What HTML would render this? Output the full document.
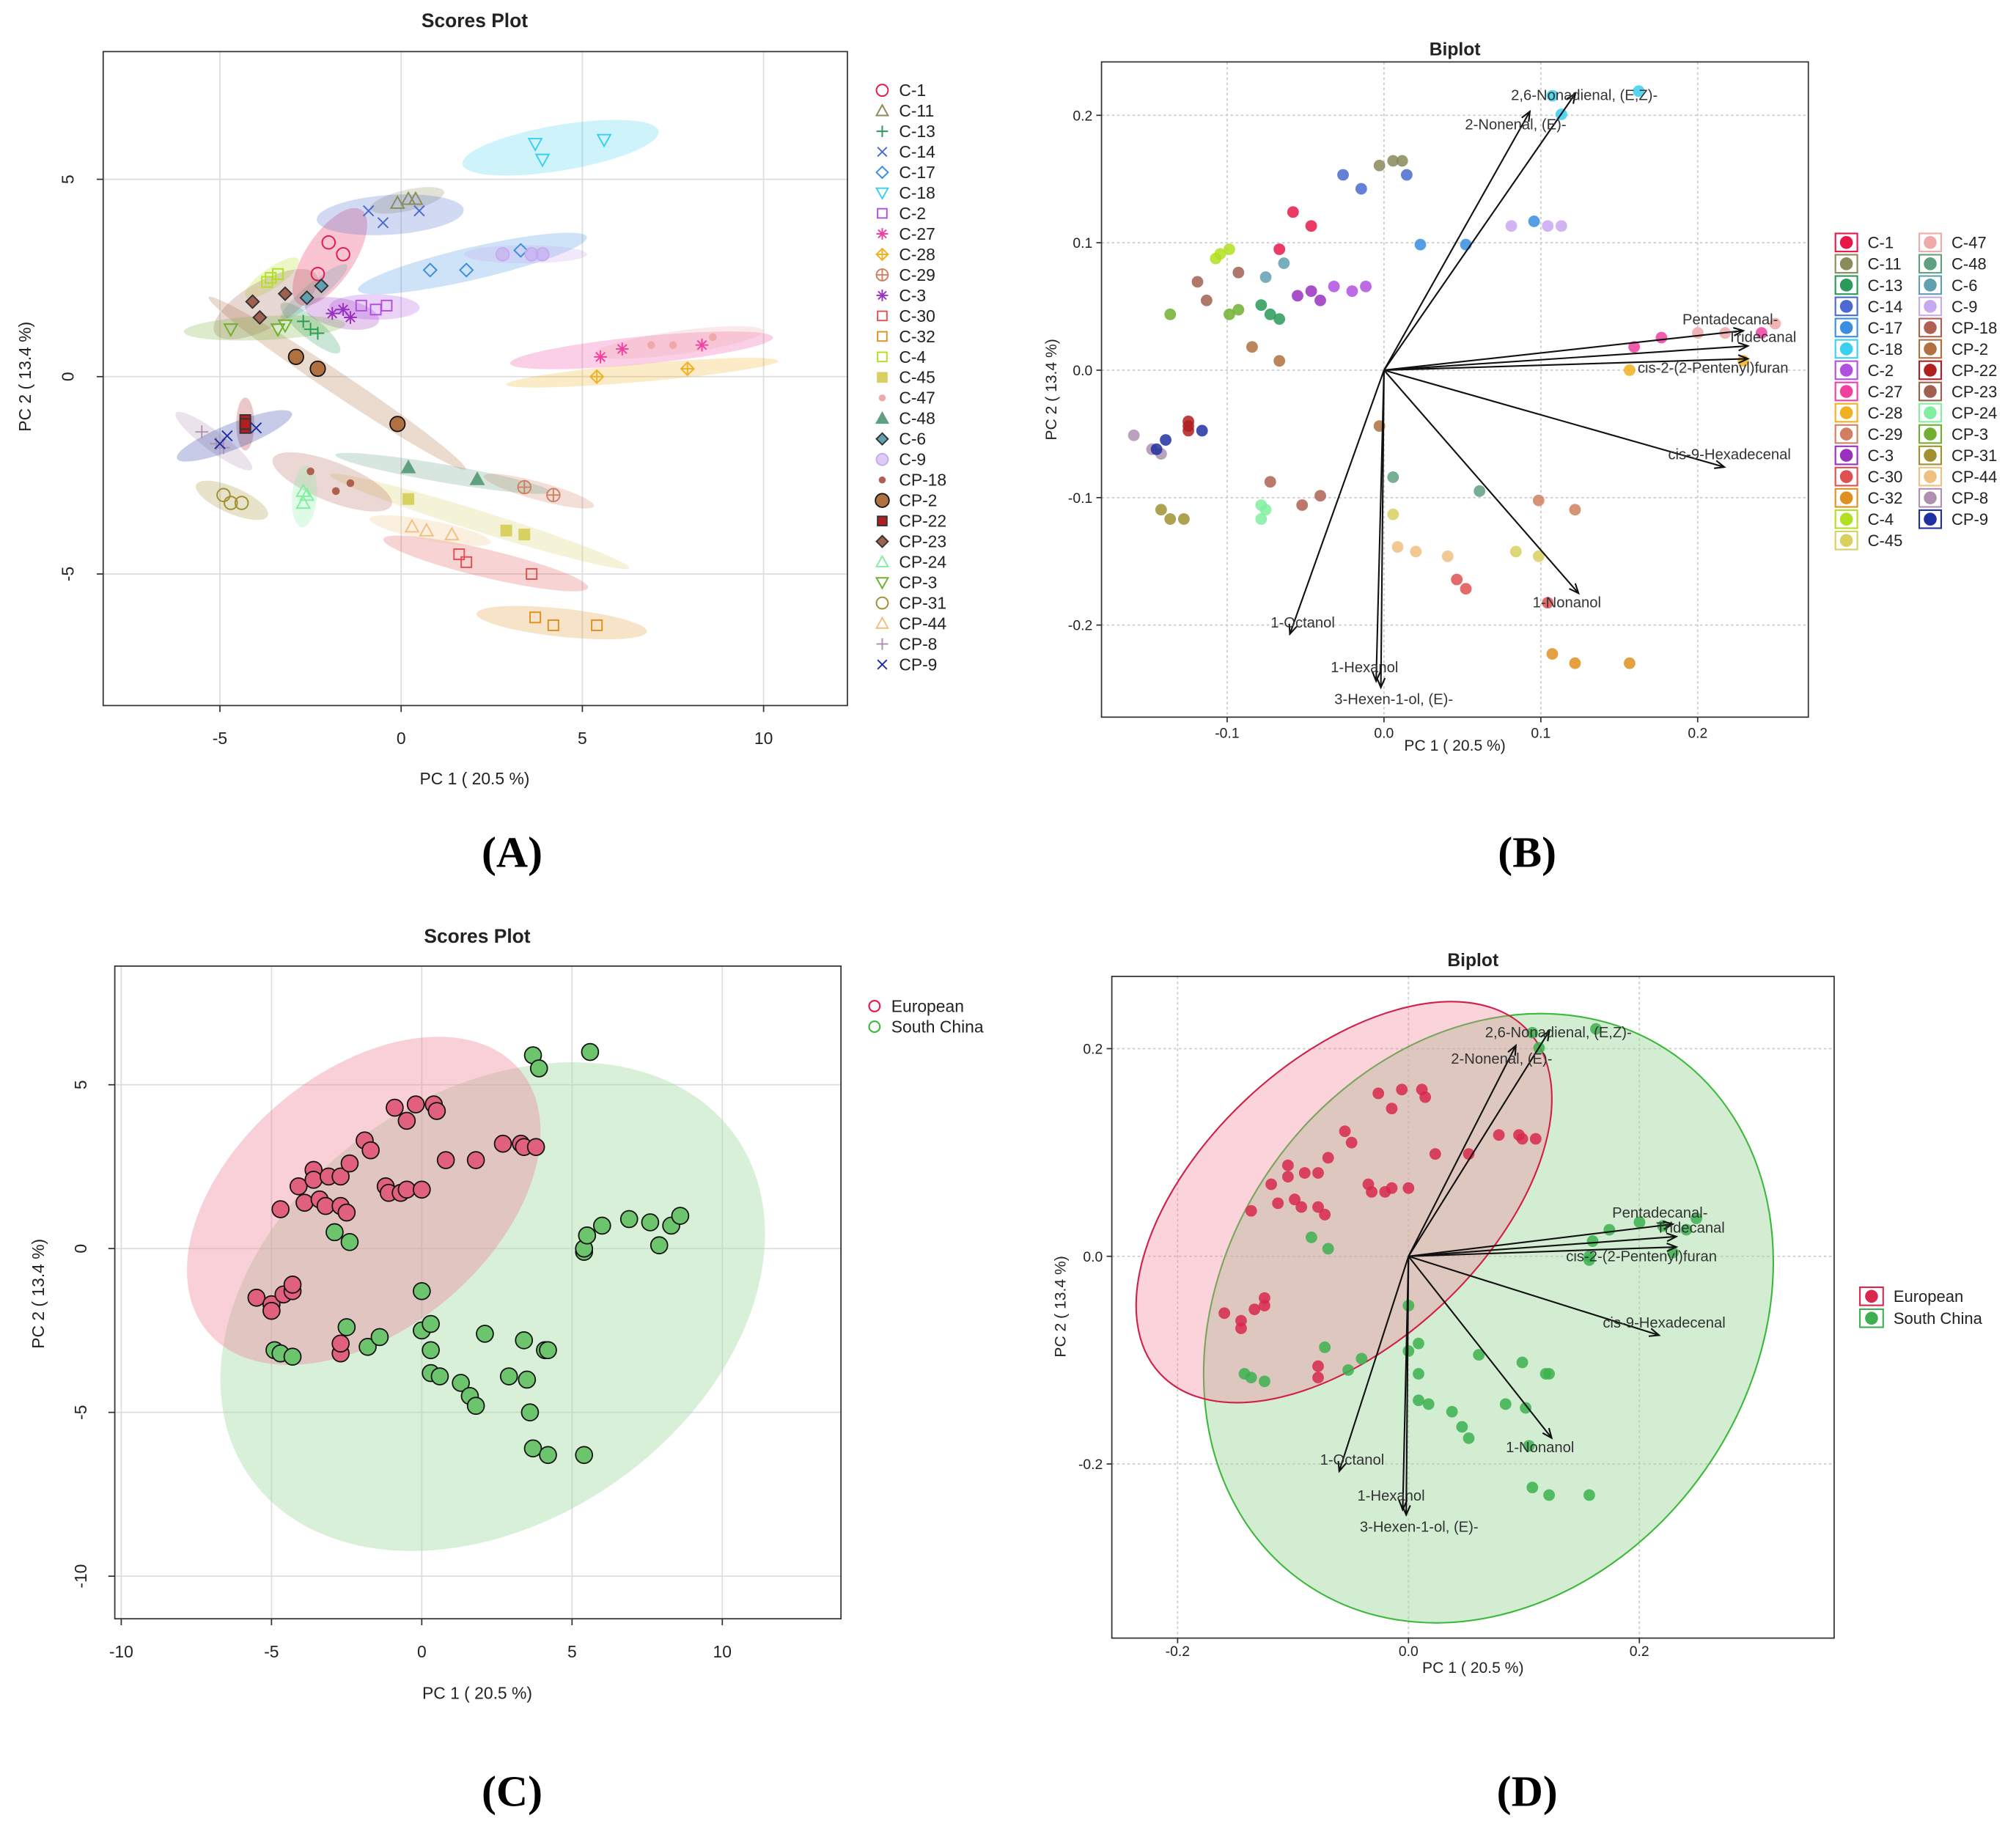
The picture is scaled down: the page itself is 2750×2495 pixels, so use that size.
<!DOCTYPE html>
<html><head><meta charset="utf-8"><title>PCA figure</title>
<style>
html,body{margin:0;padding:0;background:#fff;}
svg{display:block;}
text{font-family:"Liberation Sans",sans-serif;}
text.plabel{font-family:"Liberation Serif",serif;}
</style></head>
<body>
<svg id="fig" xmlns="http://www.w3.org/2000/svg" width="2750" height="2495" viewBox="0 0 1563 1418" preserveAspectRatio="none"></svg>
<script>
// ---------- DATA ----------
const groupNames=["C-1","C-11","C-13","C-14","C-17","C-18","C-2","C-27","C-28","C-29","C-3","C-30","C-32","C-4","C-45","C-47","C-48","C-6","C-9","CP-18","CP-2","CP-22","CP-23","CP-24","CP-3","CP-31","CP-44","CP-8","CP-9"];
const groupColors=["#e8174a","#8a8a5a","#2a9a5a","#4a6ad0","#3a8ee0","#3acff0","#b050e0","#f040a0","#f0b020","#d08060","#9a30c0","#e05050","#e09020","#b0e020","#d8d060","#f0a8a8","#60a080","#60a0b0","#c8a8f0","#b06050","#b07040","#b02020","#a06050","#80f0a0","#70b030","#a09030","#f0c080","#b090b0","#2030a0"];
const groupMarkers=["o","^","+","x","d","v","sq","*","dp","op","st","sq","sq","sq","fs","dot","ft","fd","fo","dot","bo","fsq","fd","^","v","o","^","+","x"];
const groupPC1=[[-2.0,-1.6,-2.3],[-0.1,0.2,0.4],[-2.7,-2.5,-2.3],[-0.9,-0.5,0.5],[0.8,1.8,3.3],[3.7,3.9,5.6],[-1.1,-0.7,-0.4],[5.5,6.1,8.3],[5.4,7.9],[3.4,4.2],[-1.9,-1.6,-1.4],[1.6,1.8,3.6],[3.7,4.2,5.4],[-3.6,-3.7,-3.4],[0.2,2.9,3.4],[6.9,7.5,8.6],[0.2,2.1],[-2.6,-2.2],[2.8,3.6,3.9],[-2.5,-1.8,-1.4],[-2.9,-2.3,-0.1],[-4.3,-4.3,-4.3],[-4.1,-3.9,-3.2],[-2.7,-2.7,-2.6],[-4.7,-3.4,-3.2],[-4.9,-4.7,-4.4],[0.3,0.7,1.4],[-5.5,-5.1,-4.9],[-5.0,-4.8,-4.0]];
const groupPC2=[[3.4,3.1,2.6],[4.4,4.5,4.5],[1.4,1.2,1.1],[4.2,3.9,4.2],[2.7,2.7,3.2],[5.9,5.5,6.0],[1.8,1.7,1.8],[0.5,0.7,0.8],[0.0,0.2],[-2.8,-3.0],[1.6,1.7,1.5],[-4.5,-4.7,-5.0],[-6.1,-6.3,-6.3],[2.5,2.4,2.6],[-3.1,-3.9,-4.0],[0.8,0.8,1.0],[-2.3,-2.6],[2.0,2.3],[3.1,3.1,3.1],[-2.4,-2.9,-2.7],[0.5,0.2,-1.2],[-1.1,-1.3,-1.2],[1.9,1.5,2.1],[-2.9,-3.2,-3.0],[1.2,1.2,1.3],[-3.0,-3.2,-3.2],[-3.8,-3.9,-4.0],[-1.4,-1.7,-1.8],[-1.7,-1.5,-1.3]];

const euroPC1=[-5.5,-5.0,-5.0,-4.7,-4.6,-4.3,-4.3,-4.1,-3.9,-3.6,-3.6,-3.4,-3.1,-3.2,-2.7,-2.7,-2.7,-2.7,-2.4,-2.5,-1.9,-1.7,-1.2,-1.1,-0.7,-0.5,0.0,-0.9,-0.5,-0.2,0.4,0.5,0.8,1.8,2.7,3.3,3.4,3.8];
const euroPC2=[-1.5,-1.7,-1.9,1.2,-1.4,-1.3,-1.1,1.9,1.4,2.4,2.1,1.5,2.2,1.3,2.2,1.3,-3.2,-2.9,2.6,1.1,3.3,3.0,1.9,1.7,1.7,1.8,1.8,4.3,3.9,4.4,4.4,4.2,2.7,2.7,3.2,3.2,3.1,3.1];
const chinaPC1=[3.7,3.9,5.6,-2.9,-2.4,-4.9,-4.7,-4.3,-2.5,-1.8,-1.4,0.0,0.0,0.3,0.3,0.3,0.6,1.3,1.6,1.8,2.1,2.9,3.4,3.5,3.6,3.7,4.2,4.1,4.2,5.4,5.4,5.4,5.5,6.0,6.9,7.6,7.9,8.3,8.6];
const chinaPC2=[5.9,5.5,6.0,0.5,0.2,-3.1,-3.2,-3.3,-2.4,-3.0,-2.7,-1.3,-2.5,-2.3,-3.1,-3.8,-3.9,-4.1,-4.5,-4.8,-2.6,-3.9,-2.8,-4.0,-5.0,-6.1,-6.3,-3.1,-3.1,-6.3,-0.1,0.0,0.4,0.7,0.9,0.8,0.1,0.7,1.0];

const loadNames=["2,6-Nonadienal, (E,Z)-","2-Nonenal, (E)-","Pentadecanal-","Tridecanal","cis-2-(2-Pentenyl)furan","cis-9-Hexadecenal","1-Nonanol","1-Octanol","1-Hexanol","3-Hexen-1-ol, (E)-"];
const loadPC1=[0.122,0.093,0.229,0.232,0.232,0.217,0.124,-0.060,-0.005,-0.002];
const loadPC2=[0.217,0.203,0.031,0.019,0.009,-0.076,-0.175,-0.207,-0.244,-0.249];

const ticksA_x=[-5,0,5,10], ticksA_y=[5,0,-5];
const ticksB_x=[-0.1,0.0,0.1,0.2], ticksB_y=[0.2,0.1,0.0,-0.1,-0.2];
const ticksC_x=[-10,-5,0,5,10], ticksC_y=[5,0,-5,-10];
const ticksD_x=[-0.2,0.0,0.2], ticksD_y=[0.2,0.0,-0.2];

// ---------- HELPERS ----------
const NS='http://www.w3.org/2000/svg';
const svg=document.getElementById('fig');
function mk(tag,attrs,parent){const e=document.createElementNS(NS,tag);for(const k in attrs)e.setAttribute(k,attrs[k]);(parent||svg).appendChild(e);return e;}
function txt(s,x,y,size,anchor,parent,extra){const e=mk('text',Object.assign({x:x,y:y,'font-size':size,'text-anchor':anchor||'middle',fill:'#222'},extra||{}),parent);e.textContent=s;return e;}
const SX=0.029, SY=0.0365;

const ax=x=>311+28.1*x, ay=y=>292-30.6*y;
const bx=x=>1073+1216*x, by=y=>287-988*y;
const cx=x=>327+23.3*x, cy=y=>968-25.4*y;
const dx=x=>1092+895*x, dy=y=>974-805*y;

function marker(type,x,y,col,parent,r){
  r=r||4.5;const g=mk('g',{},parent);const sw=1.1;
  if(type==='o')mk('circle',{cx:x,cy:y,r:r,fill:'none',stroke:col,'stroke-width':sw},g);
  else if(type==='fo')mk('circle',{cx:x,cy:y,r:r,fill:col,stroke:col,'stroke-width':sw,'fill-opacity':0.6},g);
  else if(type==='bo')mk('circle',{cx:x,cy:y,r:r+0.8,fill:col,stroke:'#111','stroke-width':1},g);
  else if(type==='dot')mk('circle',{cx:x,cy:y,r:r*0.6,fill:col},g);
  else if(type==='^'||type==='ft')mk('polygon',{points:`${x},${y-r} ${x-r},${y+r*0.8} ${x+r},${y+r*0.8}`,fill:type==='ft'?col:'none',stroke:col,'stroke-width':sw},g);
  else if(type==='v')mk('polygon',{points:`${x},${y+r} ${x-r},${y-r*0.8} ${x+r},${y-r*0.8}`,fill:'none',stroke:col,'stroke-width':sw},g);
  else if(type==='+'){mk('path',{d:`M${x-r} ${y}H${x+r}M${x} ${y-r}V${y+r}`,stroke:col,'stroke-width':sw},g);}
  else if(type==='x'){mk('path',{d:`M${x-r*0.8} ${y-r*0.8}L${x+r*0.8} ${y+r*0.8}M${x-r*0.8} ${y+r*0.8}L${x+r*0.8} ${y-r*0.8}`,stroke:col,'stroke-width':sw},g);}
  else if(type==='d'||type==='fd'||type==='dp')mk('polygon',{points:`${x},${y-r} ${x+r},${y} ${x},${y+r} ${x-r},${y}`,fill:type==='fd'?col:'none',stroke:type==='fd'?'#333':col,'stroke-width':sw},g);
  else if(type==='sq'||type==='fsq'||type==='fs')mk('rect',{x:x-r*0.8,y:y-r*0.8,width:r*1.6,height:r*1.6,fill:type==='sq'?'none':col,stroke:type==='fsq'?'#333':col,'stroke-width':sw},g);
  else if(type==='op'){mk('circle',{cx:x,cy:y,r:r,fill:'none',stroke:col,'stroke-width':sw},g);mk('path',{d:`M${x-r} ${y}H${x+r}M${x} ${y-r}V${y+r}`,stroke:col,'stroke-width':sw},g);}
  else if(type==='*'||type==='st'){mk('path',{d:`M${x-r} ${y}H${x+r}M${x} ${y-r}V${y+r}M${x-r*0.7} ${y-r*0.7}L${x+r*0.7} ${y+r*0.7}M${x-r*0.7} ${y+r*0.7}L${x+r*0.7} ${y-r*0.7}`,stroke:col,'stroke-width':sw},g);}
  if(type==='dp')mk('path',{d:`M${x-r} ${y}H${x+r}M${x} ${y-r}V${y+r}`,stroke:col,'stroke-width':sw},g);
  return g;
}
function ellipseFrom(xs,ys,col,parent,kMaj,kMin,padMaj,padMin,op){
  const n=xs.length;let mx=0,my=0;for(let i=0;i<n;i++){mx+=xs[i];my+=ys[i];}mx/=n;my/=n;
  let sxx=0,syy=0,sxy=0;for(let i=0;i<n;i++){sxx+=(xs[i]-mx)**2;syy+=(ys[i]-my)**2;sxy+=(xs[i]-mx)*(ys[i]-my);}
  sxx/=n;syy/=n;sxy/=n;const tr=sxx+syy,det=sxx*syy-sxy*sxy;const disc=Math.sqrt(Math.max(tr*tr/4-det,0));
  const l1=tr/2+disc,l2=Math.max(tr/2-disc,0);const ang=Math.atan2(l1-sxx,sxy||1e-9)*180/Math.PI;
  const a=kMaj*Math.sqrt(l1)+padMaj,b=kMin*Math.sqrt(l2)+padMin;
  const angle=(Math.abs(sxy)<1e-9)?(sxx>=syy?0:90):ang;
  return mk('ellipse',{cx:mx,cy:my,rx:a,ry:b,transform:`rotate(${angle} ${mx} ${my})`,fill:col,'fill-opacity':op,stroke:'none'},parent);
}
function frame(x0,y0,x1,y1,parent){
  return mk('rect',{x:x0,y:y0,width:x1-x0,height:y1-y0,fill:'none',stroke:'#333','stroke-width':1},parent);
}
function plabel(s,x,y,parent){return txt(s,x,y,34,'middle',parent,{'class':'plabel','font-weight':'bold',fill:'#000'});}

// ---------- PANEL A ----------
const pA=mk('g',{});

(function(){
  const X0=80,Y0=40,X1=657,Y1=547;
  ticksA_x.forEach(t=>mk('line',{x1:ax(t),x2:ax(t),y1:Y0,y2:Y1,stroke:'#ddd','stroke-width':1},pA));
  ticksA_y.forEach(t=>mk('line',{x1:X0,x2:X1,y1:ay(t),y2:ay(t),stroke:'#ddd','stroke-width':1},pA));
  const eg=mk('g',{},pA);
  groupNames.forEach((n,i)=>{const xs=groupPC1[i].map(ax),ys=groupPC2[i].map(ay);ellipseFrom(xs,ys,groupColors[i],eg,2.6,2.0,14,7,0.25);});
  const pg=mk('g',{},pA);
  groupNames.forEach((n,i)=>{groupPC1[i].forEach((v,j)=>{const m=marker(groupMarkers[i],ax(v),ay(groupPC2[i][j]),groupColors[i],pg,5);
    });});
  const f=frame(X0,Y0,X1,Y1,pA);
  ticksA_x.forEach(t=>{mk('line',{x1:ax(t),x2:ax(t),y1:Y1,y2:Y1+5,stroke:'#333'},pA);const e=txt(String(t),ax(t),Y1+30,13,'middle',pA);});
  ticksA_y.forEach(t=>{mk('line',{x1:X0-5,x2:X0,y1:ay(t),y2:ay(t),stroke:'#333'},pA);const e=txt(String(t),57,ay(t),13,'middle',pA,{transform:`rotate(-90 57 ${ay(t)})`});});
  let e=txt('Scores Plot',368,21,15,'middle',pA,{'font-weight':'bold'});
  e=txt('PC 1 ( 20.5 %)',368,608,13,'middle',pA);
  e=txt('PC 2 ( 13.4 %)',24,292,13,'middle',pA,{transform:'rotate(-90 24 292)'});
  const lg=mk('g',{},pA);
  groupNames.forEach((n,i)=>{const y=70+i*15.9;const it=mk('g',{},lg);
    marker(groupMarkers[i],684,y,groupColors[i],it,4.5);txt(n,697,y+4.5,13,'start',it);});
  e=plabel('(A)',397,672,pA);
})();

// ---------- BIPLOT common ----------
function arrows(parent,fx,fy,offs){
  const g=mk('g',{},parent);
  loadNames.forEach((n,i)=>{const x=fx(loadPC1[i]),y=fy(loadPC2[i]),x0=fx(0),y0=fy(0);
    const ln=mk('line',{x1:x0,y1:y0,x2:x,y2:y,stroke:'#111','stroke-width':1.2},g);
    
    const a=Math.atan2(y-y0,x-x0),h=8;
    mk('path',{d:`M${x-h*Math.cos(a-0.4)} ${y-h*Math.sin(a-0.4)}L${x} ${y}L${x-h*Math.cos(a+0.4)} ${y-h*Math.sin(a+0.4)}`,fill:'none',stroke:'#111','stroke-width':1.2},g);
    const t=txt(n,x+offs[i][0],y+offs[i][1]+4,11.5,'middle',g,{fill:'#333'});});
}
const offs=[[7,1],[-11,10],[-10,-9],[11,-7],[-27,7],[4,-10],[-9,7],[10,-9],[-9,-11],[10,9]];

// ---------- PANEL B ----------
const pB=mk('g',{});

(function(){
  const X0=854,Y0=48,X1=1402,Y1=556;
  ticksB_x.forEach(t=>mk('line',{x1:bx(t),x2:bx(t),y1:Y0,y2:Y1,stroke:'#ccc','stroke-dasharray':'2,2'},pB));
  ticksB_y.forEach(t=>mk('line',{x1:X0,x2:X1,y1:by(t),y2:by(t),stroke:'#ccc','stroke-dasharray':'2,2'},pB));
  const pg=mk('g',{},pB);
  groupNames.forEach((n,i)=>{groupPC1[i].forEach((v,j)=>{const c=mk('circle',{cx:bx(v*SX),cy:by(groupPC2[i][j]*SY),r:4.5,fill:groupColors[i],'fill-opacity':0.85},pg);
    });});
  arrows(pB,bx,by,offs);
  const f=frame(X0,Y0,X1,Y1,pB);
  ticksB_x.forEach(t=>{mk('line',{x1:bx(t),x2:bx(t),y1:Y1,y2:Y1+4,stroke:'#333'},pB);const e=txt(t.toFixed(1),bx(t),Y1+16,11,'middle',pB);});
  ticksB_y.forEach(t=>{mk('line',{x1:X0-4,x2:X0,y1:by(t),y2:by(t),stroke:'#333'},pB);const e=txt(t.toFixed(1),X0-7,by(t)+4,11,'end',pB);});
  let e=txt('Biplot',1128,43,14,'middle',pB,{'font-weight':'bold'});
  e=txt('PC 1 ( 20.5 %)',1128,582,12,'middle',pB);
  e=txt('PC 2 ( 13.4 %)',819,302,12,'middle',pB,{transform:'rotate(-90 819 302)'});
  const lg=mk('g',{},pB);
  groupNames.forEach((n,i)=>{const col=i<15?0:1,row=i<15?i:i-15;const x=1424+col*65,y=188+row*16.5;
    const it=mk('g',{},lg);
    mk('rect',{x:x-1,y:y-7,width:17,height:14,fill:'#fff',stroke:groupColors[i],'stroke-width':1.2},it);
    mk('circle',{cx:x+7.5,cy:y,r:5,fill:groupColors[i]},it);
    txt(n,x+24,y+4.5,12.5,'start',it);});
  e=plabel('(B)',1184,672,pB);
})();

// ---------- PANEL C ----------
const pC=mk('g',{});

(function(){
  const X0=89,Y0=749,X1=652,Y1=1255;
  ticksC_x.forEach(t=>mk('line',{x1:cx(t),x2:cx(t),y1:Y0,y2:Y1,stroke:'#ddd'},pC));
  ticksC_y.forEach(t=>mk('line',{x1:X0,x2:X1,y1:cy(t),y2:cy(t),stroke:'#ddd'},pC));
  let e=mk('ellipse',{cx:382,cy:1013,rx:230,ry:166,transform:'rotate(-35 382 1013)',fill:'#a8dca8','fill-opacity':0.45},pC);
  
  e=mk('ellipse',{cx:282,cy:931,rx:158,ry:100,transform:'rotate(-40 282 931)',fill:'#f08098','fill-opacity':0.38},pC);
  
  const pg=mk('g',{},pC);
  chinaPC1.forEach((v,i)=>{const c=mk('circle',{cx:cx(v),cy:cy(chinaPC2[i]),r:6.5,fill:'#6cc46c',stroke:'#111','stroke-width':1},pg);});
  euroPC1.forEach((v,i)=>{const c=mk('circle',{cx:cx(v),cy:cy(euroPC2[i]),r:6.5,fill:'#e0607e',stroke:'#111','stroke-width':1},pg);});
  const f=frame(X0,Y0,X1,Y1,pC);
  ticksC_x.forEach(t=>{mk('line',{x1:cx(t),x2:cx(t),y1:Y1,y2:Y1+5,stroke:'#333'},pC);const e=txt(String(t),cx(t),Y1+30,13,'middle',pC);});
  ticksC_y.forEach(t=>{mk('line',{x1:X0-5,x2:X0,y1:cy(t),y2:cy(t),stroke:'#333'},pC);const e=txt(String(t),67,cy(t),13,'middle',pC,{transform:`rotate(-90 67 ${cy(t)})`});});
  e=txt('Scores Plot',370,731,15,'middle',pC,{'font-weight':'bold'});
  e=txt('PC 1 ( 20.5 %)',370,1317,13,'middle',pC);
  e=txt('PC 2 ( 13.4 %)',34,1003,13,'middle',pC,{transform:'rotate(-90 34 1003)'});
  const lg=mk('g',{},pC);
  [['European','#e8174a',780],['South China','#3cb83c',796]].forEach(d=>{const it=mk('g',{},lg);
    mk('circle',{cx:678,cy:d[2],r:4.2,fill:'none',stroke:d[1],'stroke-width':1.2},it);txt(d[0],691,d[2]+4.5,13,'start',it);});
  e=plabel('(C)',397,1400,pC);
})();

// ---------- PANEL D ----------
const pD=mk('g',{});

(function(){
  const X0=862,Y0=757,X1=1422,Y1=1270;
  ticksD_x.forEach(t=>mk('line',{x1:dx(t),x2:dx(t),y1:Y0,y2:Y1,stroke:'#ccc','stroke-dasharray':'2,2'},pD));
  ticksD_y.forEach(t=>mk('line',{x1:X0,x2:X1,y1:dy(t),y2:dy(t),stroke:'#ccc','stroke-dasharray':'2,2'},pD));
  let e=mk('ellipse',{cx:1154,cy:1022,rx:250,ry:205,transform:'rotate(-55 1154 1022)',fill:'#a8dca8','fill-opacity':0.5,stroke:'#3cb83c','stroke-width':1.2},pD);
  
  e=mk('ellipse',{cx:1042,cy:932,rx:195,ry:110,transform:'rotate(-43 1042 932)',fill:'#f08098','fill-opacity':0.35,stroke:'#d0204a','stroke-width':1.2},pD);
  
  const pg=mk('g',{},pD);
  chinaPC1.forEach((v,i)=>{const c=mk('circle',{cx:dx(v*SX),cy:dy(chinaPC2[i]*SY),r:4.5,fill:'#3cb050','fill-opacity':0.85},pg);});
  euroPC1.forEach((v,i)=>{const c=mk('circle',{cx:dx(v*SX),cy:dy(euroPC2[i]*SY),r:4.5,fill:'#d8284e','fill-opacity':0.85},pg);});
  arrows(pD,dx,dy,offs);
  const f=frame(X0,Y0,X1,Y1,pD);
  ticksD_x.forEach(t=>{mk('line',{x1:dx(t),x2:dx(t),y1:Y1,y2:Y1+4,stroke:'#333'},pD);const e=txt(t.toFixed(1),dx(t),Y1+14,11,'middle',pD);});
  ticksD_y.forEach(t=>{mk('line',{x1:X0-4,x2:X0,y1:dy(t),y2:dy(t),stroke:'#333'},pD);const e=txt(t.toFixed(1),X0-7,dy(t)+4,11,'end',pD);});
  e=txt('Biplot',1142,749,14,'middle',pD,{'font-weight':'bold'});
  e=txt('PC 1 ( 20.5 %)',1142,1297,12,'middle',pD);
  e=txt('PC 2 ( 13.4 %)',826,1013,12,'middle',pD,{transform:'rotate(-90 826 1013)'});
  const lg=mk('g',{},pD);
  [['European','#d8284e',1005],['South China','#3cb050',1022]].forEach(d=>{const it=mk('g',{},lg);
    mk('rect',{x:1442,y:d[2]-7,width:18,height:14,fill:'#fff',stroke:d[1],'stroke-width':1.2},it);
    mk('circle',{cx:1451,cy:d[2],r:5,fill:d[1]},it);txt(d[0],1468,d[2]+4.5,12.5,'start',it);});
  e=plabel('(D)',1184,1400,pD);
})();
</script>
</body></html>
